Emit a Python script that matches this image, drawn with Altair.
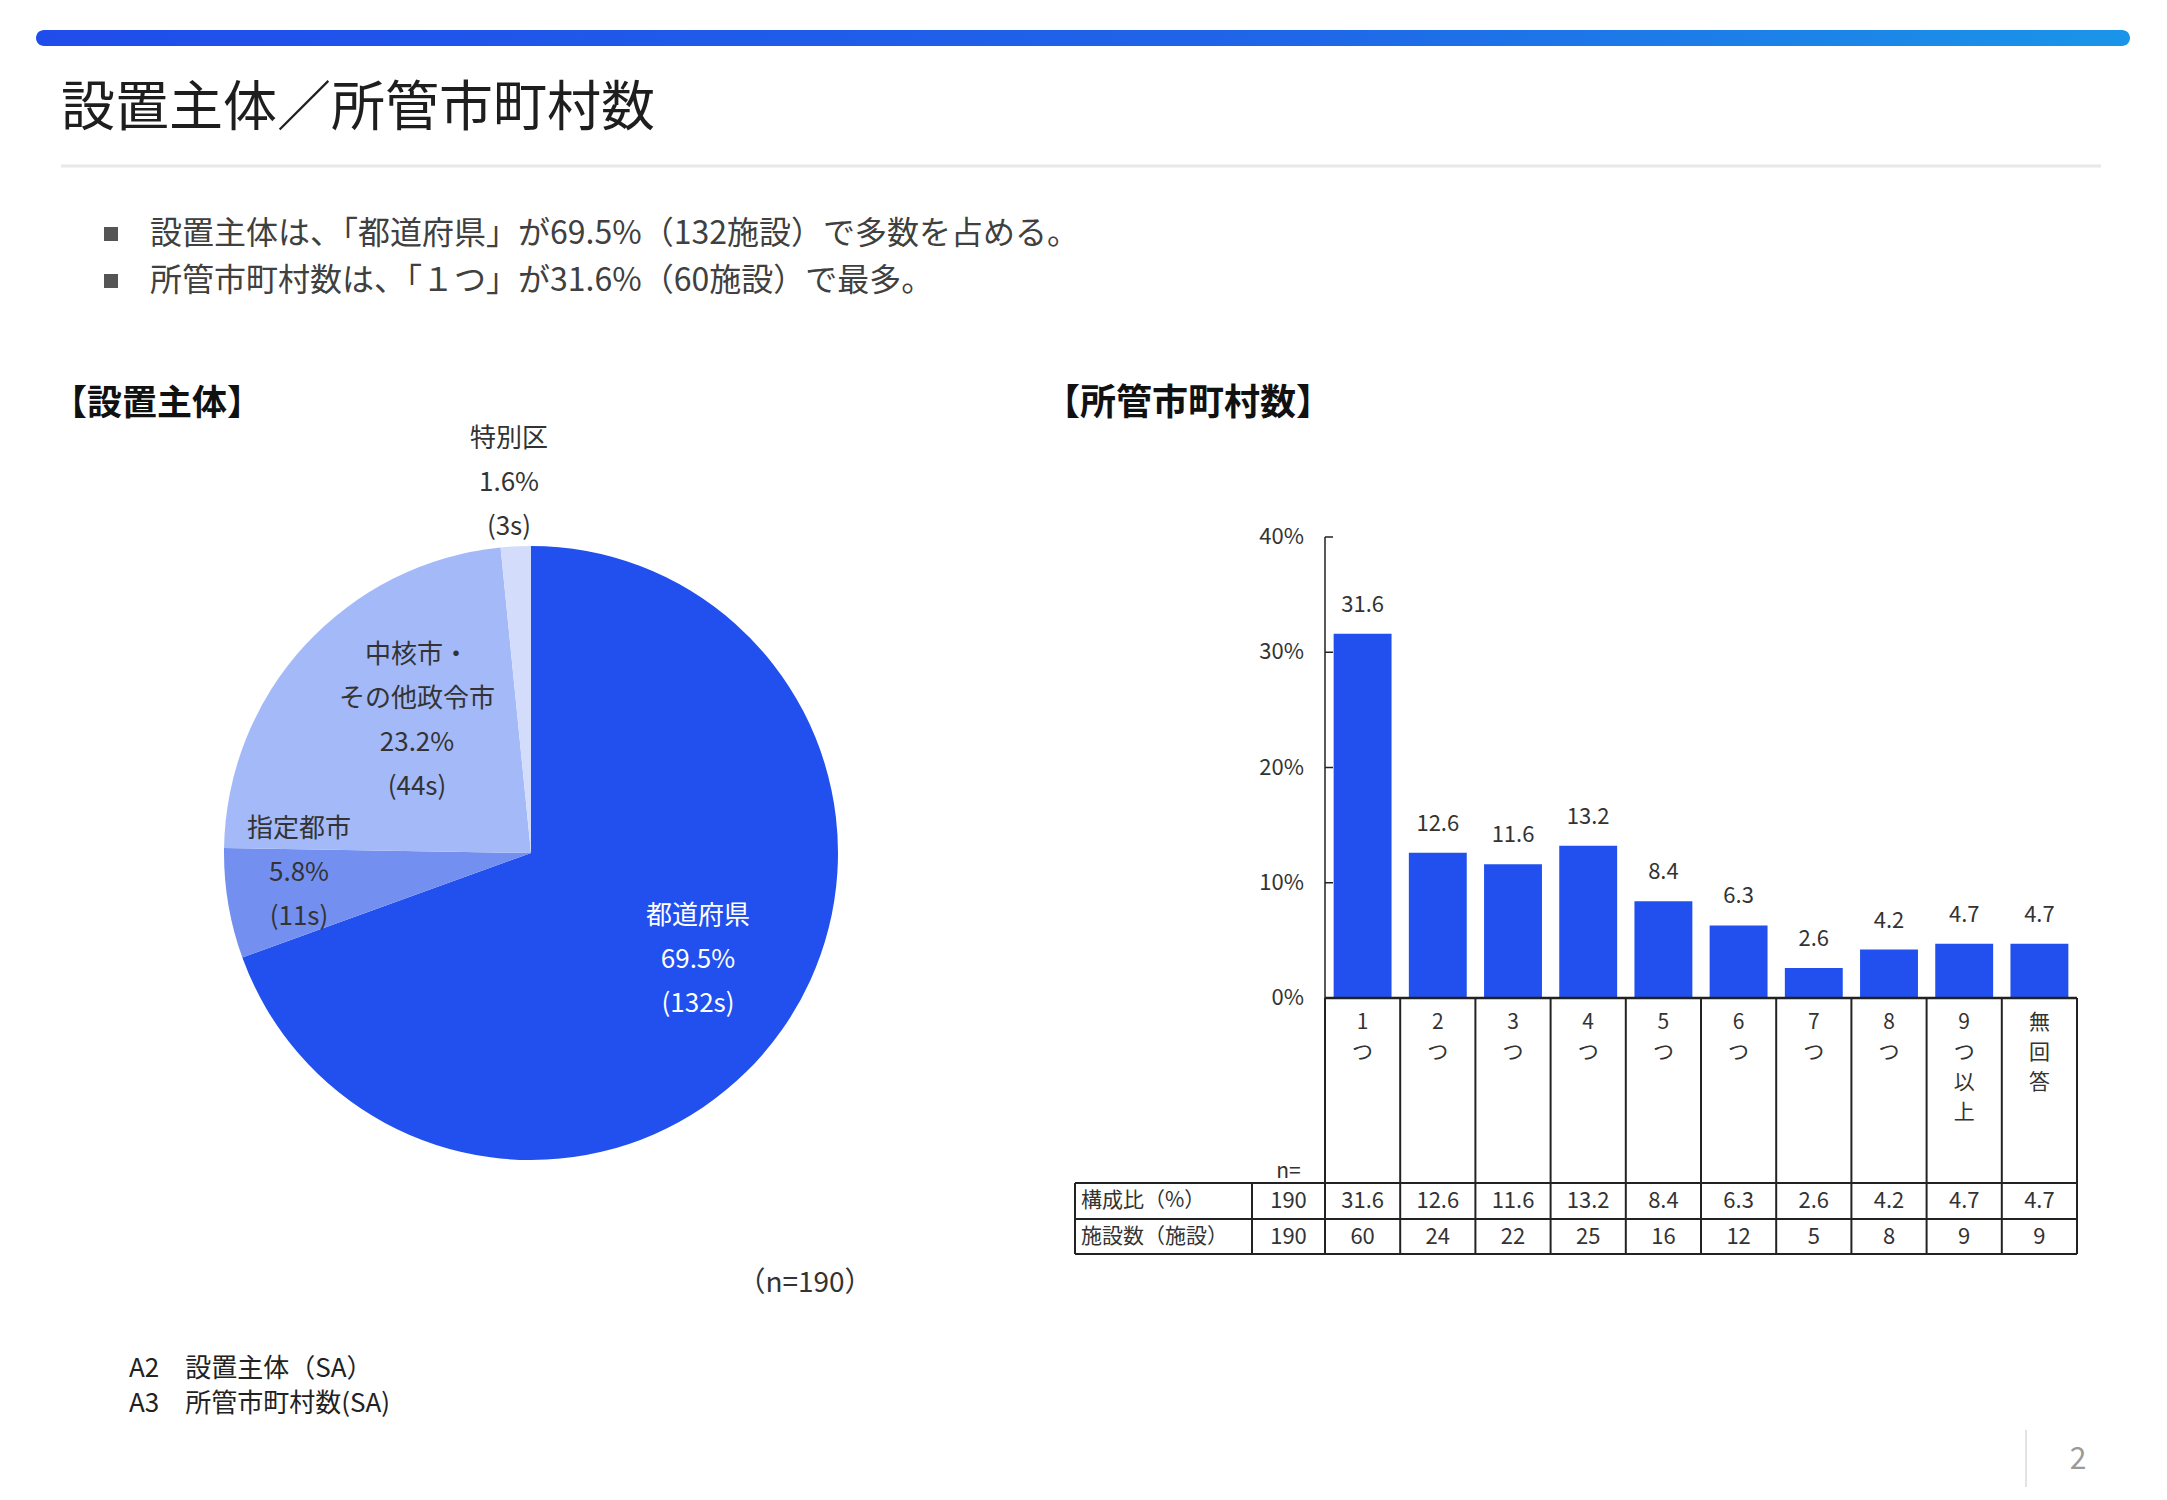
import altair as alt
import pandas as pd

FONT = "Noto Sans CJK JP"

# ---------------- data ----------------
title_text = "設置主体／所管市町村数"
bullets = [
    "設置主体は、「都道府県」が69.5%（132施設）で多数を占める。",
    "所管市町村数は、「１つ」が31.6%（60施設）で最多。",
]
left_heading = "【設置主体】"
right_heading = "【所管市町村数】"

pie_cats = ["都道府県", "指定都市", "中核市・その他政令市", "特別区"]
pie_label_names = [["都道府県"], ["指定都市"], ["中核市・", "その他政令市"], ["特別区"]]
pie_pcts = [69.5, 5.8, 23.2, 1.6]
pie_counts = [132, 11, 44, 3]
pie_colors = ["#2150ee", "#7390f0", "#a4b9f8", "#d3ddfb"]
pie_n_note = "（n=190）"

bar_cats = ["1つ", "2つ", "3つ", "4つ", "5つ", "6つ", "7つ", "8つ", "9つ以上", "無回答"]
bar_pcts = [31.6, 12.6, 11.6, 13.2, 8.4, 6.3, 2.6, 4.2, 4.7, 4.7]
bar_counts = [60, 24, 22, 25, 16, 12, 5, 8, 9, 9]
n_total = 190
y_ticks = [0, 10, 20, 30, 40]
y_tick_labels = ["0%", "10%", "20%", "30%", "40%"]
row_labels = ["構成比（%）", "施設数（施設）"]
n_label = "n="

notes = ["A2　設置主体（SA）", "A3　所管市町村数(SA)"]
page_no = "2"

# ---------------- layout ----------------
W, H = 2148, 1482
BLUE = "#2150ee"
TXT = "#333333"

AX = 1317            # y-axis x position
CR = 2069            # right edge of the category cells
Y0, Y40 = 990, 529   # pixel positions of 0% and 40%
T_LEFT, T_COL = 1067, 1244
R_TOP, R_MID, R_BOT = 1175, 1211, 1246

xscale = alt.Scale(domain=bar_cats, range=[AX, CR], paddingInner=0.23, paddingOuter=0.115)
yscale = alt.Scale(domain=[0, 40], range=[Y0, Y40])

one = pd.DataFrame({"k": [0]})
layers = []


def txt(s, x, y, size, color=TXT, weight="normal", align="left", baseline="middle", lh=None):
    mk = dict(align=align, baseline=baseline, fontSize=size, font=FONT, color=color, fontWeight=weight)
    if lh is not None:
        mk["lineHeight"] = lh
        mk["lineBreak"] = "\n"
    return alt.Chart(pd.DataFrame({"t": [s]})).mark_text(**mk).encode(
        text="t:N", x=alt.value(x), y=alt.value(y))


def hline(x1, x2, y, color="#222222", w=2):
    return alt.Chart(one).mark_rule(color=color, strokeWidth=w).encode(
        x=alt.value(x1), x2=alt.value(x2), y=alt.value(y))


def vline(x, y1, y2, color="#222222", w=2):
    return alt.Chart(one).mark_rule(color=color, strokeWidth=w).encode(
        x=alt.value(x), y=alt.value(y1), y2=alt.value(y2))


# header decoration
grad = {"gradient": "linear", "x1": 0, "x2": 1, "y1": 0, "y2": 0,
        "stops": [{"offset": 0, "color": "#1f4deb"}, {"offset": 0.6, "color": "#1f66e8"},
                  {"offset": 1, "color": "#1a95e8"}]}
layers.append(alt.Chart(one).mark_rect(color=grad, cornerRadius=8).encode(
    x=alt.value(28), x2=alt.value(2122), y=alt.value(22), y2=alt.value(38)))
layers.append(txt(title_text, 53, 102, 54, color="#1e1e1e"))
layers.append(hline(53, 2093, 158, color="#e8e8e8", w=3))

for i, b in enumerate(bullets):
    yy = 226 + i * 47
    layers.append(alt.Chart(one).mark_rect(color="#555555").encode(
        x=alt.value(96), x2=alt.value(110), y=alt.value(yy - 7), y2=alt.value(yy + 7)))
    layers.append(txt(b, 142, yy, 32, color="#404040"))

layers.append(txt(left_heading, 44, 396, 35, color="#111111", weight="bold"))
layers.append(txt(right_heading, 1036, 396, 36, color="#111111", weight="bold"))

# ---------------- pie ----------------
pie_df = pd.DataFrame({"cat": pie_cats, "n": pie_counts, "pct": pie_pcts,
                       "ord": list(range(len(pie_cats)))})
layers.append(alt.Chart(pie_df).mark_arc(outerRadius=307, strokeWidth=0).encode(
    theta=alt.Theta("n:Q", stack=True),
    order=alt.Order("ord:Q"),
    color=alt.Color("cat:N", scale=alt.Scale(domain=pie_cats, range=pie_colors), legend=None),
    x=alt.value(523), y=alt.value(845)))


def pie_label(i):
    lines = pie_label_names[i] + [f"{pie_pcts[i]:.1f}%", f"({pie_counts[i]}s)"]
    return "\n".join(lines)


# first-line anchor of each label block
label_pos = [(690, 908, "#ffffff"), (291, 821, TXT), (409, 647, TXT), (501, 431, TXT)]
for i, (lx, ly, col) in enumerate(label_pos):
    layers.append(txt(pie_label(i), lx, ly, 26, color=col, align="center", lh=44))
layers.append(txt(pie_n_note, 797, 1276, 28, align="center"))

# ---------------- bars ----------------
bar_df = pd.DataFrame({"cat": bar_cats, "pct": bar_pcts, "cnt": bar_counts,
                       "vlabel": ["\n".join(list(c)) for c in bar_cats]})
tick_df = pd.DataFrame({"t": y_ticks, "lbl": y_tick_labels})

X = alt.X("cat:N", sort=bar_cats, scale=xscale, axis=None)
layers.append(alt.Chart(bar_df).mark_bar(color=BLUE).encode(
    x=X, y=alt.Y("pct:Q", scale=yscale, axis=None)))
layers.append(alt.Chart(bar_df).mark_text(font=FONT, fontSize=22, color=TXT, dy=-29, baseline="middle").encode(
    x=X, y=alt.Y("pct:Q", scale=yscale, axis=None), text=alt.Text("pct:Q", format=".1f")))

# y axis (drawn through the y scale)
layers.append(alt.Chart(one).mark_rule(color="#222222", strokeWidth=1.5).encode(
    x=alt.value(AX), y=alt.Y(datum=40, scale=yscale, axis=None), y2=alt.datum(0)))
layers.append(alt.Chart(tick_df).mark_rule(color="#222222", strokeWidth=1.5).encode(
    x=alt.value(AX), x2=alt.value(AX + 8), y=alt.Y("t:Q", scale=yscale, axis=None)))
layers.append(alt.Chart(tick_df).mark_text(font=FONT, fontSize=22, color=TXT, align="right", baseline="middle").encode(
    x=alt.value(AX - 21), y=alt.Y("t:Q", scale=yscale, axis=None), text="lbl:N"))

# category labels (vertical)
layers.append(alt.Chart(bar_df).mark_text(font=FONT, fontSize=21, color=TXT, baseline="top",
                                          lineBreak="\n", lineHeight=30).encode(
    x=X, y=alt.value(1004), text="vlabel:N"))

# table
step = (CR - AX) / len(bar_cats)
layers.append(hline(AX, CR, Y0, w=2.5))
for k in range(len(bar_cats) + 1):
    layers.append(vline(AX + k * step, Y0, R_BOT))
for yy in (R_TOP, R_MID, R_BOT):
    layers.append(hline(T_LEFT, CR, yy))
layers.append(vline(T_LEFT, R_TOP, R_BOT))
layers.append(vline(T_COL, R_TOP, R_BOT))

row1 = (R_TOP + R_MID) / 2
row2 = (R_MID + R_BOT) / 2
layers.append(txt(n_label, (T_COL + AX) / 2, 1164, 21, align="center"))
layers.append(txt(row_labels[0], T_LEFT + 6, row1, 21))
layers.append(txt(row_labels[1], T_LEFT + 6, row2, 21))
layers.append(txt(str(n_total), (T_COL + AX) / 2, row1, 22, align="center"))
layers.append(txt(str(n_total), (T_COL + AX) / 2, row2, 22, align="center"))
layers.append(alt.Chart(bar_df).mark_text(font=FONT, fontSize=22, color=TXT, baseline="middle").encode(
    x=X, y=alt.value(row1), text=alt.Text("pct:Q", format=".1f")))
layers.append(alt.Chart(bar_df).mark_text(font=FONT, fontSize=22, color=TXT, baseline="middle").encode(
    x=X, y=alt.value(row2), text=alt.Text("cnt:Q", format="d")))

# footer
layers.append(txt(notes[0], 121, 1361, 26, color="#222222"))
layers.append(txt(notes[1], 121, 1396, 26, color="#222222"))
layers.append(vline(2018, 1422, 1479, color="#e2e2e2", w=2))
layers.append(txt(page_no, 2070, 1452, 30, color="#9a9a9a", align="center"))

chart = alt.layer(*layers).properties(
    width=W, height=H,
    autosize=alt.AutoSizeParams(type="none"),
    padding=0,
    background="white",
).configure_view(stroke=None)

chart.save("out.html", embed_options={"renderer": "svg", "actions": False})
